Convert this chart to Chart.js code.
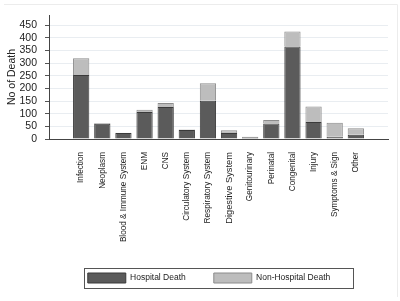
<!DOCTYPE html>
<html>
<head>
<meta charset="utf-8">
<script src="https://cdn.jsdelivr.net/npm/chart.js@4.4.0/dist/chart.umd.min.js"></script>
<style>
  html, body { margin: 0; padding: 0; background: #fff; }
  #wrap { width: 400px; height: 301px; position: relative; }
</style>
</head>
<body>
<div id="wrap"><canvas id="deaths"></canvas></div>
<script>
"use strict"
// categories and counts
const categories = ["Infection", "Neoplasm", "Blood & Immune System", "ENM", "CNS",
    "Circulatory System", "Respiratory System", "Digestive System", "Genitourinary",
    "Perinatal", "Congenital", "Injury", "Symptoms & Sign", "Other"];
const hospitalDeath = [253, 60, 24, 107, 126, 36, 151, 24, 7, 61, 366, 67, 9, 17];
const nonHospitalDeath = [66, 3, 1, 9, 16, 2, 69, 11, 2, 14, 59, 61, 55, 25];
const yTicks = [0, 50, 100, 150, 200, 250, 300, 350, 400, 450];

const fontFam = "'Liberation Sans', Arial, sans-serif";
const legendPad = 28;

// box round the legend + faint outer frame, like the original
const legendFrame = {
    id: "legendFrame",
    afterUpdate(chart) {
        // legend sits a bit left of centre in the original
        const lg = chart.legend;
        if (!lg) return;
        lg.left -= 9.5;
        lg.right -= 9.5;
    },
    afterDraw(chart) {
        const ctx = chart.ctx;
        ctx.save();
        // faint outer frame (top and right)
        ctx.strokeStyle = "#ececec";
        ctx.lineWidth = 1;
        ctx.beginPath();
        ctx.moveTo(4, 4.5);
        ctx.lineTo(397.5, 4.5);
        ctx.lineTo(397.5, 297);
        ctx.stroke();

        const lg = chart.legend;
        if (lg && lg.lineWidths) {
            const w = lg.lineWidths[0];
            const startX = (lg.left + legendPad + lg.right - w) / 2;
            const x0 = Math.round(startX - 4) + 0.5;
            const x1 = Math.round(startX + w - legendPad + 23) + 0.5;
            const y0 = Math.round(lg.top + legendPad - 5) + 0.5;
            const y1 = Math.round(lg.top + legendPad + 10 + 5) + 0.5;
            ctx.strokeStyle = "#555";
            ctx.strokeRect(x0, y0, x1 - x0, y1 - y0);
        }
        ctx.restore();
    }
};

const toPoints = arr => arr.map((v, i) => ({ x: i, y: v }));

const ctx = document.getElementById("deaths").getContext("2d");

const config = {
    type: "bar",
    data: {
        datasets: [{
            label: "Hospital Death",
            data: toPoints(hospitalDeath),
            backgroundColor: "#5b5b5b",
            borderColor: "#3a3a3a",
            borderWidth: 1,
            barPercentage: 0.77,
            categoryPercentage: 1
        }, {
            label: "Non-Hospital Death",
            data: toPoints(nonHospitalDeath),
            backgroundColor: "#bdbdbd",
            borderColor: "#8c8c8c",
            borderWidth: 1,
            barPercentage: 0.77,
            categoryPercentage: 1
        }]
    },
    options: {
        responsive: true,
        maintainAspectRatio: false,
        animation: false,
        layout: { padding: { left: 4, right: 12, top: 15, bottom: 8 } },
        plugins: {
            tooltip: { enabled: false },
            legend: {
                position: "bottom",
                fullSize: false,
                labels: {
                    boxWidth: 38,
                    boxHeight: 10,
                    padding: legendPad,
                    color: "#222",
                    font: { family: fontFam, size: 8.5 }
                }
            }
        },
        scales: {
            x: {
                type: "linear",
                stacked: true,
                min: -0.95,
                max: 13.95,
                afterBuildTicks: s => { s.ticks = categories.map((c, i) => ({ value: i })); },
                afterFit: s => { s.height = 106; },
                grid: { display: false },
                border: { display: true, color: "#444", width: 1 },
                ticks: {
                    autoSkip: false,
                    minRotation: 90,
                    maxRotation: 90,
                    padding: 5,
                    color: "#222",
                    font: c => ({ family: fontFam, size: c.index === 7 ? 9.3 : 8.2 }),
                    callback: v => categories[v]
                }
            },
            y: {
                stacked: true,
                min: 0,
                max: 490,
                afterBuildTicks: s => { s.ticks = yTicks.map(v => ({ value: v })); },
                afterFit: s => { s.width = 45; },
                grid: { color: "#e9edf1", tickColor: "#555", tickLength: 4 },
                border: { display: true, color: "#444", width: 1 },
                title: {
                    display: true,
                    text: "No of Death",
                    color: "#222",
                    padding: { top: 2, bottom: 0 },
                    font: { family: fontFam, size: 10.5 }
                },
                ticks: {
                    autoSkip: false,
                    padding: 8,
                    color: "#222",
                    font: { family: fontFam, size: 10.5 }
                }
            }
        }
    },
    plugins: [legendFrame]
};

const deathChart = new Chart(ctx, config);
</script>
</body>
</html>
